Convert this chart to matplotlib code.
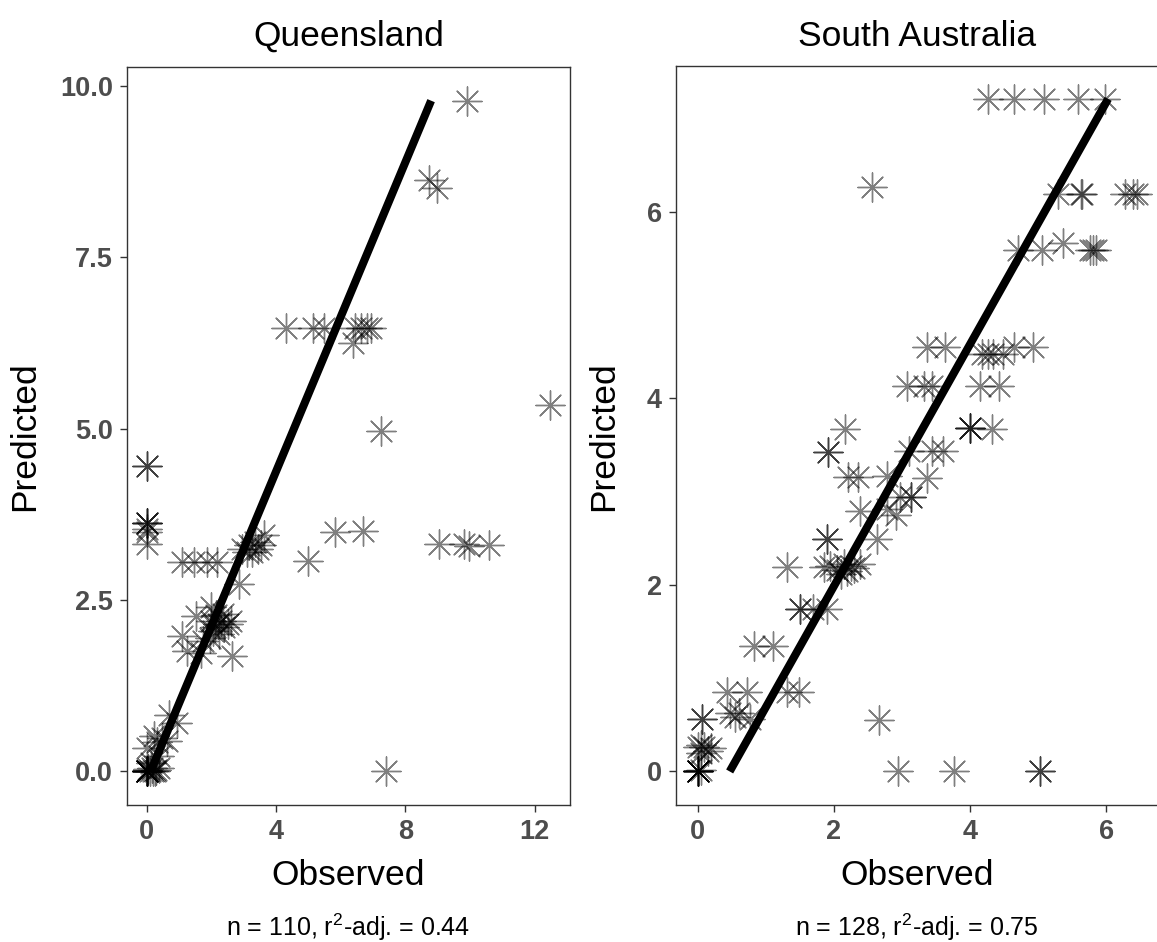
import matplotlib
matplotlib.use("Agg")
import matplotlib.pyplot as plt
from matplotlib.ticker import FormatStrFormatter

plt.rcParams['font.family'] = ['Liberation Sans', 'DejaVu Sans']
plt.rcParams['mathtext.fontset'] = 'custom'
plt.rcParams['mathtext.rm'] = 'Liberation Sans'
plt.rcParams['mathtext.it'] = 'Liberation Sans:italic'

# Queensland: observed vs predicted
qld_obs = [9.91, 8.72, 8.98, 4.30, 5.13, 5.50, 6.46, 6.64, 6.82, 6.94, 6.38, 12.48, 7.26,
           0.0, 0.0, 0.0, 0.0, 0.0, 0.0, 0.0, 0.0,
           1.08, 1.46, 1.85, 2.18, 5.00, 5.82, 6.68, 9.03, 9.81, 9.98, 10.60, 7.40,
           2.95, 3.15, 3.25, 3.35, 3.45, 3.55, 3.62, 3.10, 2.85,
           2.00, 2.10, 2.20, 2.30, 2.40, 2.15, 2.50, 2.25, 2.05, 2.35, 1.95, 2.60,
           1.51, 1.08, 1.24, 1.67, 2.65, 1.98, 1.75,
           0.69, 0.95, 0.23, 0.48, 0.63, 0.33, 0.02, 0.38, 0.12,
           0.0, 0.0, 0.0, 0.0, 0.0, 0.0, 0.0, 0.0, 0.10, 0.20, 0.30, 0.15, 0.05, 0.25, 0.38]
qld_pred = [9.77, 8.62, 8.50, 6.46, 6.46, 6.46, 6.46, 6.46, 6.46, 6.46, 6.24, 5.35, 4.96,
            4.45, 4.45, 3.62, 3.62, 3.62, 3.54, 3.49, 3.32,
            3.06, 3.06, 3.06, 3.06, 3.07, 3.49, 3.51, 3.31, 3.31, 3.28, 3.30, 0.0,
            3.25, 3.30, 3.20, 3.35, 3.25, 3.30, 3.45, 3.20, 2.73,
            2.20, 2.10, 2.15, 2.20, 2.10, 2.28, 2.15, 2.00, 2.05, 2.30, 1.95, 2.20,
            2.27, 1.98, 1.76, 1.72, 1.68, 2.40, 1.90,
            0.83, 0.70, 0.51, 0.49, 0.45, 0.43, 0.34, 0.22, 0.12,
            0.0, 0.0, 0.0, 0.0, 0.0, 0.0, 0.0, 0.0, 0.0, 0.0, 0.02, 0.05, 0.03, 0.0, 0.05]
qld_fit_x = [0.12, 8.80]
qld_fit_y = [0.0, 9.78]

# South Australia: observed vs predicted
sa_obs = [4.27, 4.64, 5.09, 5.58, 5.99, 2.56,
          5.30, 5.63, 5.64, 6.28, 6.40, 6.45,
          4.71, 5.06, 5.76, 5.81, 5.85, 5.37,
          3.37, 3.63, 4.64, 4.93, 4.17, 4.27, 4.34, 4.49,
          3.07, 3.32, 3.44, 4.15, 4.42,
          4.00, 4.00, 4.00, 4.32, 2.16,
          1.92, 1.92, 3.10, 3.44, 3.61,
          2.21, 2.36, 2.78, 3.37, 3.14, 3.14, 2.97,
          2.39, 2.78, 2.92, 2.63, 1.90, 1.90,
          1.31, 1.85, 1.95, 2.05, 2.15, 2.20, 2.25, 2.30, 2.39, 2.10,
          1.50, 1.50, 1.70, 1.90, 0.83, 1.10,
          1.31, 1.49, 0.43, 0.73, 0.47, 0.60, 0.77, 0.55, 0.06, 0.06,
          0.00, 0.05, 0.10, 0.15, 0.20, 0.05,
          0.0, 0.0, 0.0, 0.0, 0.0, 0.0, 0.05,
          2.66, 2.94, 3.76, 5.03, 5.03]
sa_pred = [7.21, 7.21, 7.21, 7.21, 7.21, 6.26,
           6.19, 6.19, 6.19, 6.19, 6.19, 6.19,
           5.59, 5.59, 5.59, 5.59, 5.59, 5.67,
           4.55, 4.55, 4.55, 4.55, 4.47, 4.47, 4.47, 4.47,
           4.13, 4.13, 4.13, 4.13, 4.13,
           3.68, 3.68, 3.68, 3.67, 3.67,
           3.42, 3.42, 3.43, 3.43, 3.43,
           3.16, 3.16, 3.17, 3.15, 2.94, 2.94, 2.94,
           2.79, 2.81, 2.75, 2.49, 2.49, 2.49,
           2.19, 2.19, 2.20, 2.16, 2.22, 2.15, 2.20, 2.18, 2.22, 2.12,
           1.74, 1.74, 1.74, 1.74, 1.34, 1.34,
           0.85, 0.85, 0.85, 0.85, 0.63, 0.63, 0.56, 0.58, 0.56, 0.56,
           0.26, 0.28, 0.26, 0.22, 0.25, 0.20,
           0.0, 0.0, 0.0, 0.0, 0.0, 0.0, 0.02,
           0.55, 0.0, 0.0, 0.0, 0.0]
sa_fit_x = [0.47, 6.03]
sa_fit_y = [0.0, 7.21]

titles = ["Queensland", "South Australia"]
captions = [r"n = 110, r$^{2}$-adj. = 0.44", r"n = 128, r$^{2}$-adj. = 0.75"]

fig = plt.figure(figsize=(11.57, 9.42), dpi=100)
ax1 = fig.add_axes([0.1095, 0.1454, 0.3832, 0.7834])
ax2 = fig.add_axes([0.5840, 0.1454, 0.4173, 0.7848])

panels = [
    (ax1, qld_obs, qld_pred, qld_fit_x, qld_fit_y, (-0.62, 13.10), (-0.49, 10.27), [0, 4, 8, 12], [0, 2.5, 5, 7.5, 10]),
    (ax2, sa_obs, sa_pred, sa_fit_x, sa_fit_y, (-0.323, 6.77), (-0.36, 7.565), [0, 2, 4, 6], [0, 2, 4, 6]),
]

for ax, xo, yp, fx, fy, xl, yl, xt, yt in panels:
    ax.scatter(xo, yp, marker=(8, 2, 0), s=21 ** 2, c='black', alpha=0.5, linewidths=1.0, zorder=2)
    ax.plot(fx, fy, color='black', lw=5.8, solid_capstyle='butt', zorder=3)
    ax.set_xlim(*xl)
    ax.set_ylim(*yl)
    ax.set_xticks(xt)
    ax.set_yticks(yt)
    ax.tick_params(direction='out', length=5, width=1.0, color='#333333',
                   labelsize=19.5, labelcolor='#4D4D4D', pad=5)
    for sp in ax.spines.values():
        sp.set_color('#333333')
        sp.set_linewidth(1.0)

ax1.yaxis.set_major_formatter(FormatStrFormatter('%.1f'))
for ax in (ax1, ax2):
    for lab in ax.get_xticklabels() + ax.get_yticklabels():
        lab.set_fontweight('bold')

centers = [0.3012, 0.7926]
for cx, t, c in zip(centers, titles, captions):
    fig.text(cx, 0.951, t, ha='center', va='baseline', fontsize=25.5)
    fig.text(cx, 0.0605, "Observed", ha='center', va='baseline', fontsize=25.5)
    fig.text(cx, 0.0064, c, ha='center', va='baseline', fontsize=18)

fig.text(0.0216, 0.537, "Predicted", rotation=90, ha='center', va='center', fontsize=25.5)
fig.text(0.522, 0.537, "Predicted", rotation=90, ha='center', va='center', fontsize=25.5)

fig.savefig("out.png", dpi=100)
